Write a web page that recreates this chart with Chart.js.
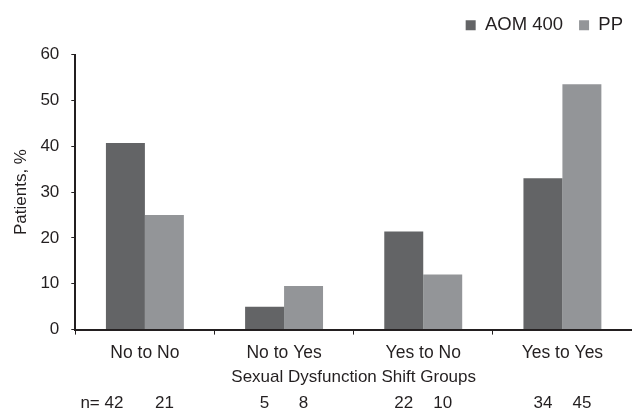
<!DOCTYPE html>
<html>
<head>
<meta charset="utf-8">
<script src="https://cdn.jsdelivr.net/npm/chart.js@4"></script>
<style>
  html, body { margin: 0; padding: 0; background: #fff; overflow: hidden; }
  #wrap { width: 632px; height: 412px; position: relative; }
</style>
</head>
<body>
<div id="wrap"><canvas id="shiftChart"></canvas></div>
<script>
const categories = ["No to No", "No to Yes", "Yes to No", "Yes to Yes"];
const aomValues = [40.7, 5.0, 21.4, 33.0];
const ppValues = [25.0, 9.5, 12.0, 53.5];
const aomCounts = [42, 5, 22, 34];
const ppCounts = [21, 8, 10, 45];
const yTicks = [0, 10, 20, 30, 40, 50, 60];

const ink = "#231f20";
const font = "'Liberation Sans', Arial, Helvetica, sans-serif";

// extra room under the legend, and nudge it to the right edge
const legendGap = {
  id: "legendGap",
  beforeInit(chart) {
    const fit = chart.legend.fit;
    chart.legend.fit = function () {
      fit.bind(chart.legend)();
      this.height += 10;
    };
  },
  afterLayout(chart) {
    chart.legend.left += 5;
    chart.legend.right += 5;
  }
};

// draws the "n=" row under the bars, using the bar positions from the chart
const countRow = {
  id: "countRow",
  afterDraw(chart) {
    const c = chart.ctx;
    const y = chart.chartArea.bottom + 74;
    c.save();
    c.fillStyle = ink;
    c.font = "17px " + font;
    c.textBaseline = "middle";
    [aomCounts, ppCounts].forEach((counts, d) => {
      const meta = chart.getDatasetMeta(d);
      meta.data.forEach((bar, i) => {
        if (d === 0 && i === 0) {
          c.textAlign = "right";
          c.fillText("n= " + counts[i], bar.x - 2, y);
        } else {
          c.textAlign = "center";
          c.fillText(String(counts[i]), bar.x, y);
        }
      });
    });
    c.restore();
  }
};

const ctx = document.getElementById("shiftChart").getContext("2d");
const chart = new Chart(ctx, {
  type: "bar",
  data: {
    labels: categories,
    datasets: [
      { label: "AOM 400", data: aomValues, backgroundColor: "#636466" },
      { label: "PP", data: ppValues, backgroundColor: "#939598" }
    ]
  },
  options: {
    responsive: true,
    maintainAspectRatio: false,
    animation: false,
    datasets: { bar: { categoryPercentage: 0.56, barPercentage: 1.0 } },
    layout: { padding: { top: 0, right: -2, bottom: 24, left: 8 } },
    plugins: {
      tooltip: { enabled: false },
      legend: {
        position: "top",
        align: "end",
        labels: {
          boxWidth: 10,
          boxHeight: 10,
          padding: 16,
          color: ink,
          font: { family: font, size: 18.5 }
        }
      }
    },
    scales: {
      x: {
        border: { color: ink, width: 2 },
        grid: { offset: true, drawOnChartArea: false, tickLength: 5, color: ink, tickWidth: 1 },
        ticks: { color: ink, font: { family: font, size: 17.5 }, padding: 8 },
        title: {
          display: true,
          text: "Sexual Dysfunction Shift Groups",
          color: ink,
          font: { family: font, size: 17 },
          padding: { top: -4, bottom: 0 }
        }
      },
      y: {
        min: 0,
        max: 60,
        afterBuildTicks(scale) {
          scale.ticks = yTicks.map(v => ({ value: v }));
        },
        border: { color: ink, width: 2 },
        grid: { drawOnChartArea: false, tickLength: 4, color: ink },
        ticks: { color: ink, font: { family: font, size: 17 }, padding: 12 },
        title: {
          display: true,
          text: "Patients, %",
          color: ink,
          font: { family: font, size: 17 },
          padding: { top: 3, bottom: -3 }
        }
      }
    }
  },
  plugins: [legendGap, countRow]
});
</script>
</body>
</html>
